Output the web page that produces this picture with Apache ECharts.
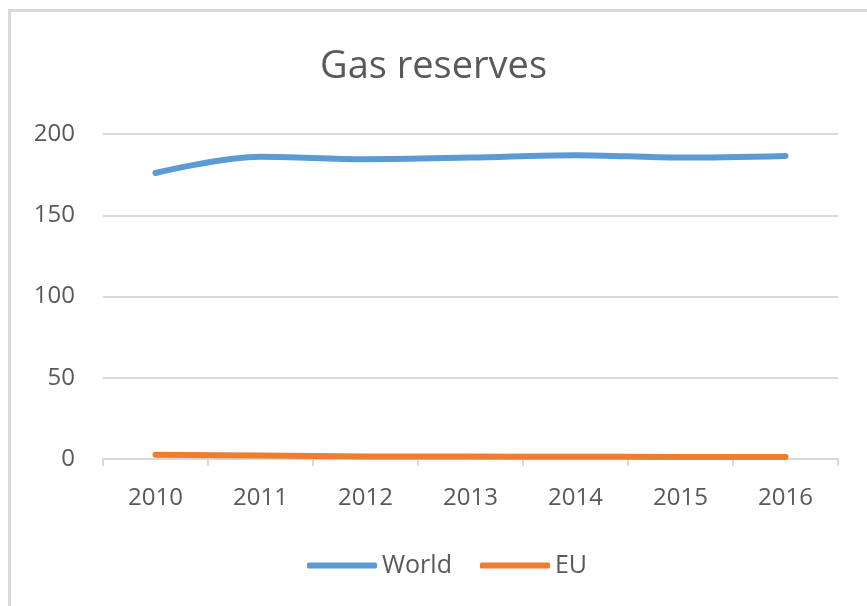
<!DOCTYPE html>
<html>
<head>
<meta charset="utf-8">
<script src="https://cdn.jsdelivr.net/npm/echarts@6/dist/echarts.min.js"></script>
<style>
html,body{margin:0;padding:0;background:#fff;}
#chart{width:867px;height:606px;}
</style>
</head>
<body>
<div id="chart"></div>
<script>
const titleText = 'Gas reserves';
const categories = ['2010','2011','2012','2013','2014','2015','2016'];
const worldName = 'World';
const worldValues = [176, 186, 184.5, 185.5, 187, 185.5, 186.5];
const euName = 'EU';
const euValues = [2.6, 2.2, 1.6, 1.5, 1.4, 1.3, 1.2];
const yTicks = [0, 50, 100, 150, 200];

const FONT = 'Open Sans';
const chart = echarts.init(document.getElementById('chart'), null, {renderer: 'canvas'});
chart.setOption({
  backgroundColor: '#fff',
  animation: false,
  graphic: [{
    type: 'rect',
    shape: {x: 9.5, y: 10.5, width: 900, height: 700},
    style: {fill: 'none', stroke: '#d9d9d9', lineWidth: 3},
    silent: true
  }],
  title: {
    text: titleText,
    left: 'center',
    top: 43,
    textStyle: {fontFamily: FONT, fontSize: 38, fontWeight: 'normal', color: '#595959'}
  },
  grid: {left: 103, right: 29, top: 134, bottom: 147},
  legend: {
    top: 548,
    left: 302,
    itemWidth: 70,
    itemHeight: 6,
    itemGap: 28,
    icon: 'roundRect',
    textStyle: {fontFamily: FONT, fontSize: 25, color: '#595959'},
    data: [worldName, euName]
  },
  xAxis: {
    type: 'category',
    data: categories,
    boundaryGap: true,
    axisLine: {lineStyle: {color: '#d9d9d9', width: 2}},
    axisTick: {show: true, alignWithLabel: false, length: 7, lineStyle: {color: '#d9d9d9', width: 2}},
    axisLabel: {fontFamily: FONT, fontSize: 24, color: '#595959', margin: 27}
  },
  yAxis: {
    type: 'value',
    min: yTicks[0],
    max: yTicks[yTicks.length - 1],
    interval: yTicks[1] - yTicks[0],
    axisLine: {show: false},
    axisTick: {show: false},
    splitLine: {lineStyle: {color: '#d9d9d9', width: 2}},
    axisLabel: {fontFamily: FONT, fontSize: 24, color: '#595959', margin: 28}
  },
  series: [
    {
      name: worldName, type: 'line', data: worldValues, smooth: 0.35,
      symbol: 'none', color: '#5b9bd5',
      lineStyle: {width: 6, color: '#5b9bd5', cap: 'round'}
    },
    {
      name: euName, type: 'line', data: euValues, smooth: 0.35,
      symbol: 'none', color: '#ed7d31',
      lineStyle: {width: 6, color: '#ed7d31', cap: 'round'}
    }
  ]
});
</script>
</body>
</html>
